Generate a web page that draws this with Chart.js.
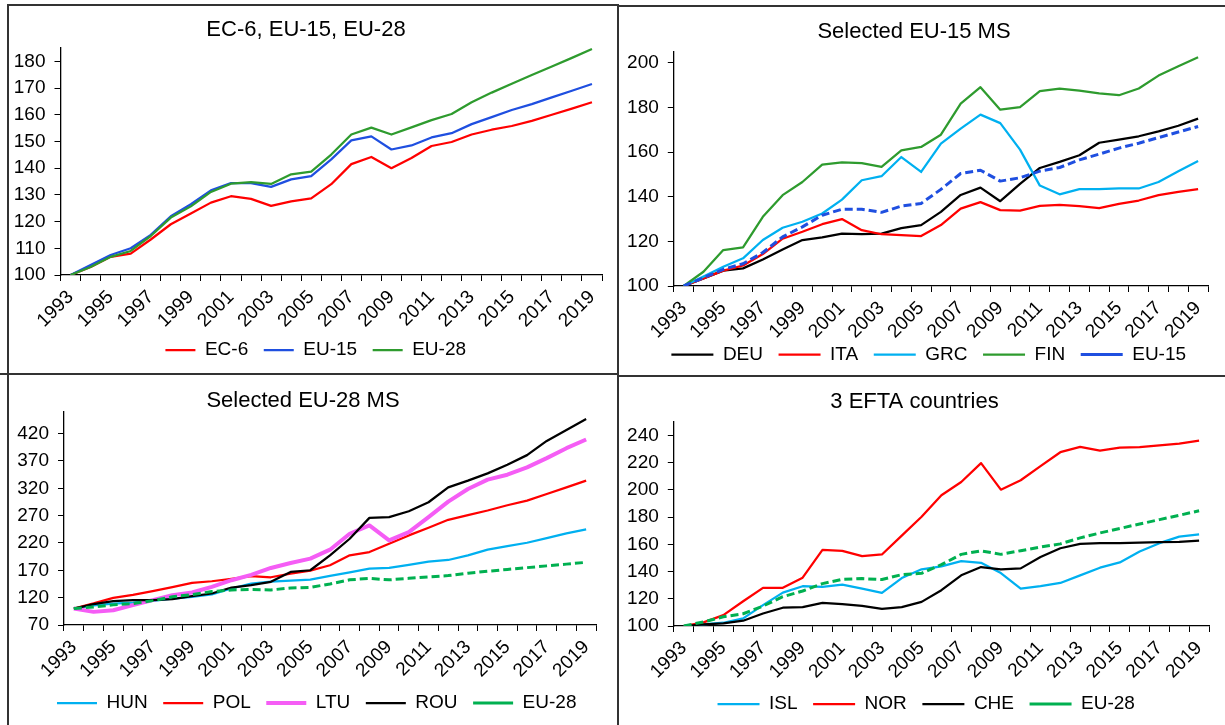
<!DOCTYPE html>
<html>
<head>
<meta charset="utf-8">
<script src="https://cdn.jsdelivr.net/npm/chart.js@4.4.1/dist/chart.umd.min.js"></script>
<style>
  html, body { margin: 0; padding: 0; background: #fff; overflow: hidden; }
  #page { position: relative; width: 1225px; height: 725px; }
  canvas { position: absolute; }
  .rule { position: absolute; background: #333; }
</style>
</head>
<body>
<div id="page">
  <canvas id="c-tl" width="606" height="366" style="left:10px;top:6px"></canvas>
  <canvas id="c-tr" width="603" height="367" style="left:620px;top:7px"></canvas>
  <canvas id="c-bl" width="606" height="348" style="left:10px;top:377px"></canvas>
  <canvas id="c-br" width="603" height="347" style="left:620px;top:378px"></canvas>

  <!-- cadre des 4 panneaux -->
  <div class="rule" style="left:8px;top:4px;width:611px;height:2px"></div>
  <div class="rule" style="left:617px;top:5px;width:608px;height:2px"></div>
  <div class="rule" style="left:7px;top:4px;width:2px;height:721px"></div>
  <div class="rule" style="left:617px;top:4px;width:2px;height:721px"></div>
  <div class="rule" style="left:0;top:373px;width:619px;height:2px"></div>
  <div class="rule" style="left:617px;top:375px;width:608px;height:2px"></div>
</div>

<script>
// --- Données (indice 1993 = 100) ---

const years = [1993, 1994, 1995, 1996, 1997, 1998, 1999, 2000, 2001, 2002, 2003, 2004, 2005, 2006,
  2007, 2008, 2009, 2010, 2011, 2012, 2013, 2014, 2015, 2016, 2017, 2018, 2019];

const ec6  = [100, 103, 106.8, 108, 113.3, 119, 123, 127.1, 129.5, 128.5, 125.9, 127.6, 128.7, 134,
  141.5, 144.2, 140, 143.8, 148.3, 149.8, 152.6, 154.4, 155.8, 157.7, 160, 162.3, 164.7];
const eu15 = [100, 103.7, 107.5, 110, 115, 122, 126.5, 131.7, 134.4, 134.4, 133, 135.8, 137, 143.3,
  150.4, 151.9, 147, 148.5, 151.5, 153.1, 156.5, 159.1, 161.8, 164, 166.5, 169, 171.5];
const eu28 = [100, 103, 106.8, 109, 114.6, 121.5, 125.7, 131.1, 134.2, 134.8, 134.1, 137.7, 138.7, 145.1,
  152.6, 155.2, 152.6, 155.3, 158, 160.3, 164.7, 168.3, 171.6, 174.9, 178.1, 181.3, 184.6];

const deu = [100, 103.4, 106.9, 107.9, 111.9, 116.4, 120.6, 121.8, 123.5, 123.2, 123.5, 125.9, 127.3, 133.2,
  140.8, 144.1, 138, 145.8, 152.9, 155.6, 158.6, 164.2, 165.6, 167.1, 169.3, 171.8, 175];
const ita = [100, 103.4, 106.9, 109.2, 114.3, 121.2, 124.3, 127.7, 130, 125, 123.2, 122.8, 122.4, 127.3,
  134.7, 137.6, 134, 133.8, 135.9, 136.4, 135.8, 134.9, 136.8, 138.3, 140.7, 142.2, 143.4];
const grc = [100, 104.2, 108.6, 112.4, 120.6, 126.1, 128.8, 132.5, 138.7, 147.4, 149.2, 157.8, 151.1, 163.8,
  170.5, 176.8, 173, 161.1, 145, 141.1, 143.4, 143.4, 143.7, 143.7, 146.6, 151.4, 156];
const fin = [100, 106.4, 116.1, 117.3, 131, 140.7, 146.6, 154.4, 155.4, 155.1, 153.4, 160.8, 162.3, 167.8,
  181.7, 189.1, 179, 180.2, 187.3, 188.5, 187.6, 186.3, 185.5, 188.5, 194.3, 198.5, 202.5];

const hun = [100, 106, 109, 111, 114, 118, 121.6, 125.8, 136.7, 145.8, 149.5, 151.3, 153.1, 159.8,
  166.4, 173.1, 174.3, 179.8, 185.9, 188.9, 197.4, 207.7, 214.4, 220.4, 228.9, 237.4, 244.7];
const pol = [100, 109.4, 119.7, 125.2, 131.9, 139.1, 147, 150, 154.3, 159.2, 157.3, 164, 169.5, 179.2,
  197.4, 203.4, 218.6, 233.8, 247.7, 262.3, 270.8, 279.3, 289, 297.5, 309.6, 321.7, 333.9];
const ltu = [100, 94, 97, 106.4, 115.5, 124.6, 129.4, 139.8, 151.9, 161.6, 174.3, 183.4, 191.3, 207.7,
  236.8, 252, 224.7, 239.8, 267.1, 295.6, 318.7, 335.7, 344.8, 358.1, 375.1, 393.3, 409.1];
const rou = [100, 108.2, 113.7, 115.5, 115.5, 117.3, 122.8, 127.6, 138.5, 142.8, 148.9, 167.1, 170.1, 197.4,
  227.7, 265.9, 267.1, 278, 294.4, 321.7, 333.9, 347.2, 363, 380.6, 406.6, 426.7, 446.7];

const isl = [100, 101.2, 102.4, 105.6, 115.3, 124.5, 129.2, 128.7, 130.4, 127.5, 124.3, 135.2, 141.6, 143.8,
  147.6, 146.4, 138.9, 127.5, 129.2, 131.6, 137.2, 142.8, 146.7, 154.7, 160.8, 165.6, 167.3];
const nor = [100, 102.7, 108, 118.2, 128, 128, 135.5, 155.9, 155.2, 151.3, 152.5, 166.4, 180.2, 196,
  205.7, 219.6, 200.1, 207, 217.4, 227.6, 231.5, 228.8, 231, 231.3, 232.7, 233.9, 236.1];
const che = [100, 101.2, 101.9, 103.9, 109.2, 113.4, 113.9, 117, 116, 114.8, 112.6, 113.9, 117.7, 126.3,
  137.2, 143.3, 141.6, 142.3, 150.6, 157.1, 160.3, 160.8, 160.8, 161.3, 161.5, 161.7, 162.7];

// graduations des axes Y
const ticksTL = [100, 110, 120, 130, 140, 150, 160, 170, 180];
const ticksTR = [100, 120, 140, 160, 180, 200];
const ticksBL = [70, 120, 170, 220, 270, 320, 370, 420];
const ticksBR = [100, 120, 140, 160, 180, 200, 220, 240];

// --- Couleurs ---
const RED = "#ff0000";
const BLUE = "#1f4fe0";
const GREEN = "#2e9b2e";
const LIGHTBLUE = "#00b0f0";
const MAGENTA = "#f55df5";
const DASHGREEN = "#00b050";
const BLACK = "#000000";

Chart.defaults.font.family = '"Liberation Sans", Arial, sans-serif';
Chart.defaults.color = "#000";

function serie(label, data, color, width = 2.25, dash = []) {
  return {
    label, data,
    borderColor: color, backgroundColor: color,
    borderWidth: width, borderDash: dash,
    borderJoinStyle: "round",
    pointRadius: 0, pointHoverRadius: 0, pointStyle: "line",
    tension: 0, fill: false,
  };
}

// légende : un peu d'espace après chaque texte (écart entre les items)
function legendLabels(chart) {
  return Chart.defaults.plugins.legend.labels.generateLabels(chart)
    .map(l => ({ ...l, text: l.text + "\u00a0\u00a0" }));
}

// décale la légende horizontalement (centrée sur le panneau, pas sur le graphe)
const legendShift = {
  id: "legendShift",
  afterLayout(chart, args, opts) {
    if (!chart.legend || !opts.dx) return;
    chart.legend.left += opts.dx;
    chart.legend.right += opts.dx;
  },
};

function panel(id, o) {
  return new Chart(document.getElementById(id), {
    type: "line",
    // ordre inversé : comme Excel, la dernière série passe au-dessus
    data: { labels: years, datasets: o.series.slice().reverse() },
    plugins: [legendShift],
    options: {
      responsive: false,
      animation: false,
      events: [],
      layout: { padding: o.pad },
      plugins: {
        title: {
          display: true, text: o.title, color: "#000",
          font: { size: 22, weight: "normal", lineHeight: 1 },
          padding: o.titlePad,
        },
        legend: {
          position: "bottom", reverse: true,
          labels: {
            usePointStyle: true, pointStyleWidth: o.boxWidth,
            padding: 5, color: "#000", font: { size: 19 },
            generateLabels: legendLabels,
          },
        },
        legendShift: { dx: o.legendDx },
        tooltip: { enabled: false },
      },
      scales: {
        x: {
          offset: true,
          grid: { offset: true, drawOnChartArea: false, tickLength: 6, color: "#000" },
          border: { color: "#000", width: 1.3 },
          ticks: {
            autoSkip: false, minRotation: 45, maxRotation: 45, padding: 5,
            font: { size: 19 }, color: "#000",
            callback: (v, i) => (i % 2 === 0 ? String(years[i]) : ""),
          },
          afterFit: s => { s.height = o.xHeight; },
        },
        y: {
          min: o.min, max: o.max,
          grid: { drawOnChartArea: false, tickLength: 6, color: "#000" },
          border: { color: "#000", width: 1.3 },
          ticks: { padding: 9, font: { size: 19 }, color: "#000" },
          afterBuildTicks: s => { s.ticks = o.ticks.map(v => ({ value: v })); },
          afterFit: s => { s.width = o.yWidth; },
        },
      },
    },
  });
}

panel("c-tl", {
  title: "EC-6, EU-15, EU-28",
  series: [serie("EC-6", ec6, RED), serie("EU-15", eu15, BLUE), serie("EU-28", eu28, GREEN)],
  min: 100, max: 185, ticks: ticksTL,
  pad: { left: 0, right: 14, top: 0, bottom: 2.5 },
  titlePad: { top: 12.5, bottom: 7.5 },
  yWidth: 50.5, xHeight: 60.5, boxWidth: 30, legendDx: 15,
});

panel("c-tr", {
  title: "Selected EU-15 MS",
  series: [
    serie("DEU", deu, BLACK), serie("ITA", ita, RED), serie("GRC", grc, LIGHTBLUE),
    serie("FIN", fin, GREEN), serie("EU-15", eu15, BLUE, 3, [8, 4]),
  ],
  min: 100, max: 205, ticks: ticksTR,
  pad: { left: 0, right: 15, top: 0, bottom: 0 },
  titlePad: { top: 13.7, bottom: 9 },
  yWidth: 53.8, xHeight: 54, boxWidth: 42, legendDx: 20,
});

panel("c-bl", {
  title: "Selected EU-28 MS",
  series: [
    serie("HUN", hun, LIGHTBLUE), serie("POL", pol, RED), serie("LTU", ltu, MAGENTA, 4),
    serie("ROU", rou, BLACK), serie("EU-28", eu28, DASHGREEN, 3, [8, 4]),
  ],
  min: 70, max: 460, ticks: ticksBL,
  pad: { left: 0, right: 20, top: 0, bottom: 2.5 },
  titlePad: { top: 12.7, bottom: 0 },
  yWidth: 54, xHeight: 63.5, boxWidth: 40, legendDx: 19,
});

panel("c-br", {
  title: "3 EFTA countries",
  series: [
    serie("ISL", isl, LIGHTBLUE), serie("NOR", nor, RED), serie("CHE", che, BLACK),
    serie("EU-28", eu28, DASHGREEN, 3, [8, 4]),
  ],
  min: 100, max: 250, ticks: ticksBR,
  pad: { left: 0, right: 14, top: 0, bottom: 1.5 },
  titlePad: { top: 13, bottom: 8.7 },
  yWidth: 53.8, xHeight: 63.5, boxWidth: 42, legendDx: 17,
});
</script>
</body>
</html>
